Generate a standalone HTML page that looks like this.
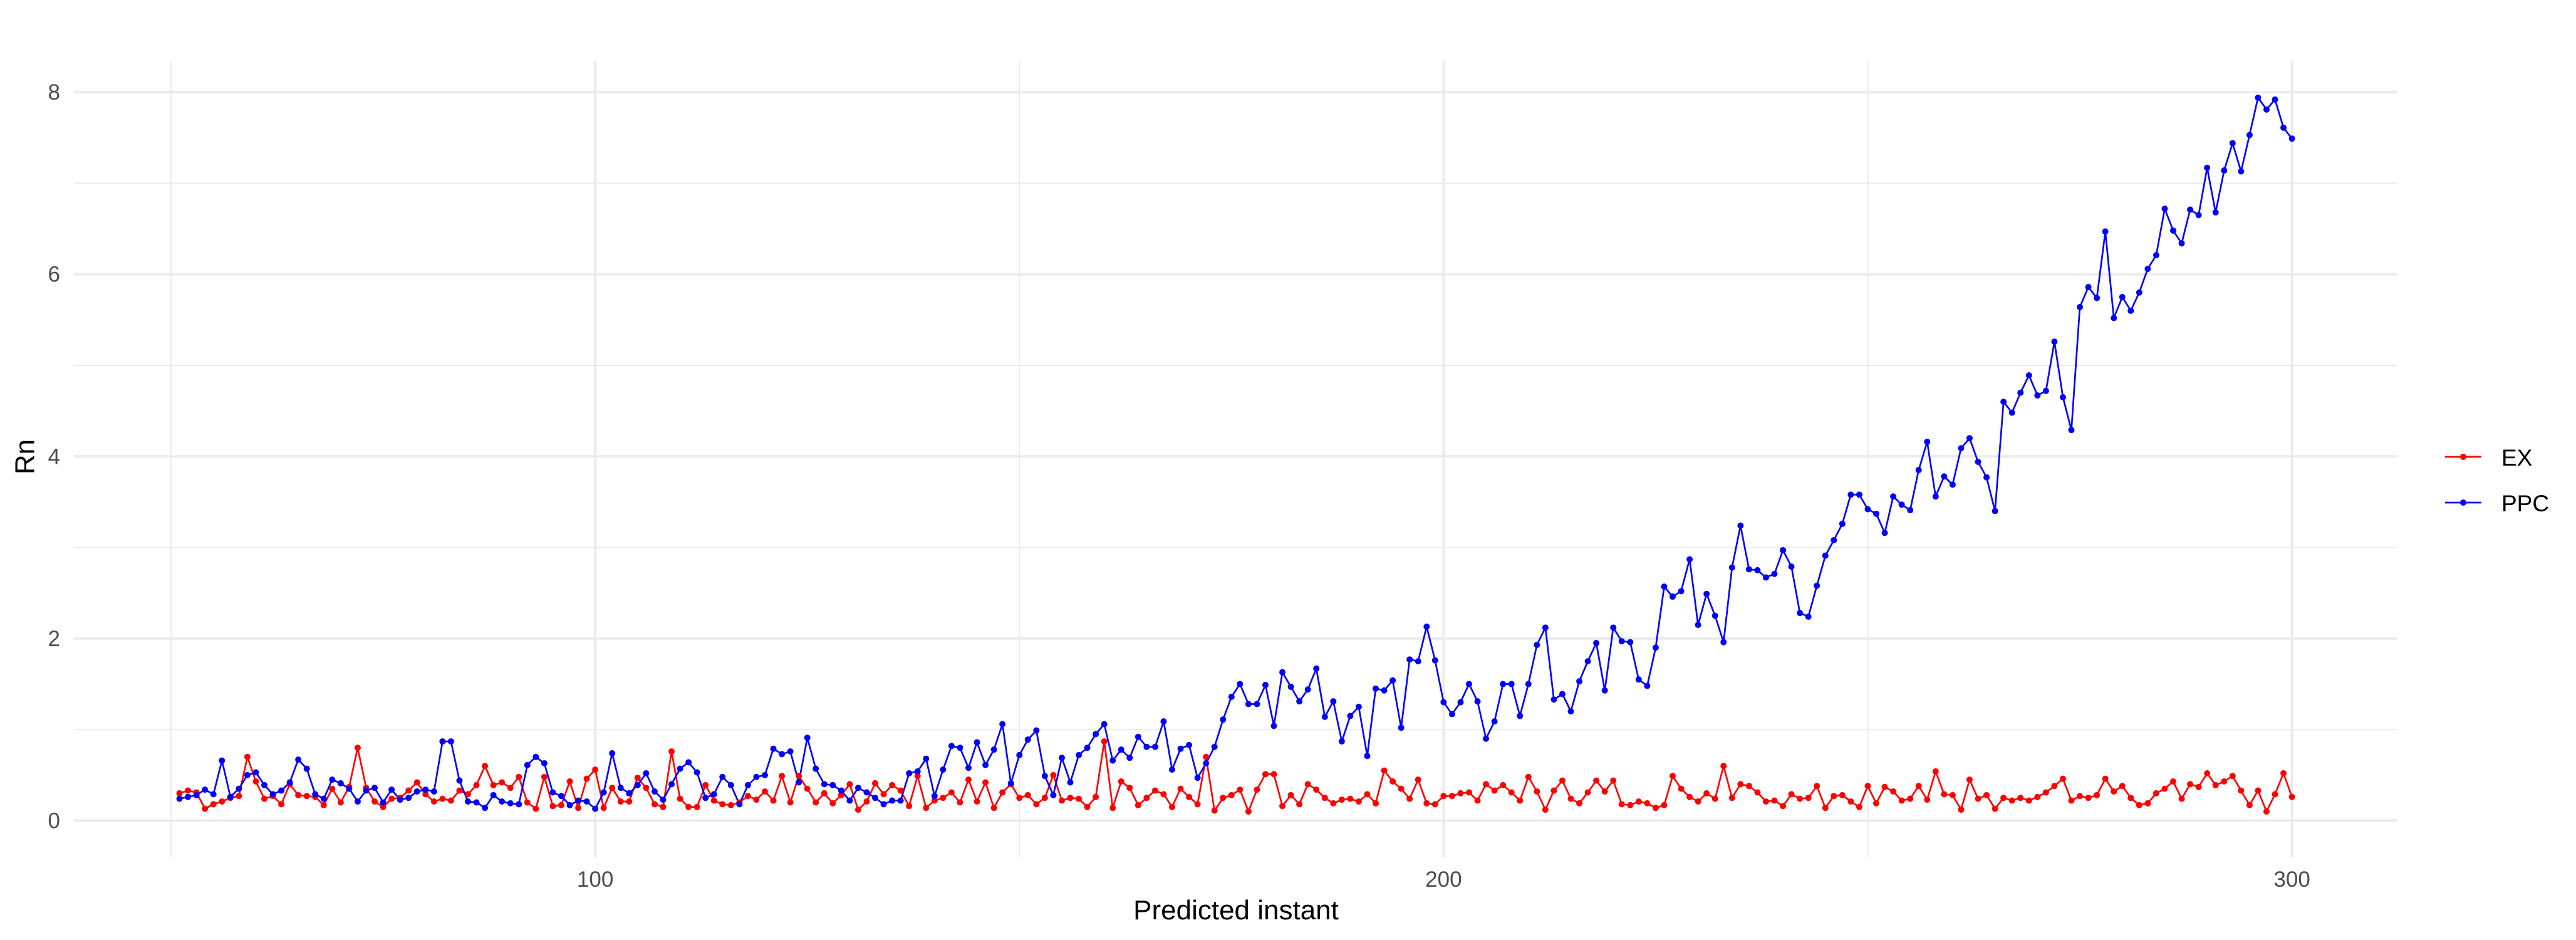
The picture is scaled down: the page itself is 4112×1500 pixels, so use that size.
<!DOCTYPE html>
<html><head><meta charset="utf-8"><style>
html,body{margin:0;padding:0;background:#fff;}
svg{display:block;font-family:"Liberation Sans",Arial,sans-serif;}
</style></head><body>
<svg id="chart" width="4112" height="1500" viewBox="0 0 4112 1500" xmlns="http://www.w3.org/2000/svg">
<rect x="0" y="0" width="4112" height="1500" fill="#fff"/>
<g id="grid"></g>
<g id="series"></g>
<g id="axes"></g>
<text x="40" y="729" font-size="44" fill="#000" text-anchor="middle" transform="rotate(-90 40 729)" dominant-baseline="central">Rn</text>
<text x="1973" y="1467" font-size="44" fill="#000" text-anchor="middle">Predicted instant</text>
<g>
<g>
<line x1="3903" y1="729" x2="3961" y2="729" stroke="#ff0000" stroke-width="2.7"/>
<circle cx="3932" cy="729" r="5" fill="#ff0000"/>
<text x="3993" y="743" font-size="37" fill="#000">EX</text>
</g>
<g>
<line x1="3903" y1="802" x2="3961" y2="802" stroke="#0000ff" stroke-width="2.7"/>
<circle cx="3932" cy="802" r="5" fill="#0000ff"/>
<text x="3993" y="816" font-size="37" fill="#000">PPC</text>
</g>
</g>
</svg>
<script>
const xStart = 51;
const exValues = [
0.30,0.33,0.31,0.13,0.18,0.21,0.25,0.27,0.70,0.43,
0.24,0.27,0.18,0.40,0.28,0.27,0.26,0.17,0.35,0.20,
0.37,0.80,0.36,0.21,0.15,0.24,0.25,0.33,0.42,0.29,
0.21,0.24,0.22,0.33,0.29,0.39,0.60,0.39,0.42,0.36,
0.48,0.20,0.13,0.48,0.16,0.17,0.43,0.14,0.46,0.56,
0.14,0.36,0.21,0.21,0.47,0.36,0.18,0.15,0.76,0.24,
0.15,0.15,0.39,0.22,0.18,0.17,0.20,0.27,0.23,0.32,
0.22,0.49,0.20,0.49,0.35,0.20,0.30,0.19,0.28,0.40,
0.12,0.21,0.41,0.29,0.39,0.33,0.16,0.49,0.14,0.22,
0.25,0.31,0.20,0.45,0.21,0.42,0.14,0.31,0.40,0.25,
0.28,0.18,0.25,0.50,0.22,0.25,0.24,0.15,0.26,0.87,
0.14,0.43,0.36,0.17,0.25,0.33,0.29,0.15,0.35,0.26,
0.18,0.70,0.11,0.25,0.28,0.34,0.10,0.34,0.51,0.51,
0.16,0.28,0.18,0.40,0.34,0.25,0.19,0.23,0.24,0.21,
0.29,0.19,0.55,0.43,0.35,0.24,0.45,0.19,0.18,0.27,
0.27,0.30,0.31,0.22,0.40,0.33,0.39,0.31,0.22,0.48,
0.32,0.12,0.33,0.44,0.24,0.19,0.31,0.44,0.32,0.44,
0.18,0.17,0.21,0.19,0.14,0.17,0.49,0.35,0.26,0.21,
0.30,0.24,0.60,0.25,0.40,0.38,0.31,0.21,0.22,0.16,
0.29,0.24,0.25,0.38,0.14,0.27,0.28,0.21,0.15,0.38,
0.19,0.37,0.32,0.22,0.24,0.38,0.23,0.54,0.29,0.28,
0.12,0.45,0.24,0.28,0.13,0.25,0.22,0.25,0.22,0.26,
0.31,0.38,0.46,0.22,0.27,0.25,0.28,0.46,0.32,0.38,
0.25,0.17,0.19,0.30,0.35,0.43,0.24,0.40,0.37,0.52,
0.39,0.43,0.49,0.33,0.17,0.33,0.10,0.29,0.52,0.26];
const ppcValues = [
0.24,0.26,0.28,0.34,0.29,0.66,0.26,0.35,0.50,0.53,
0.39,0.29,0.33,0.42,0.67,0.57,0.29,0.24,0.45,0.41,
0.35,0.21,0.33,0.36,0.20,0.34,0.23,0.25,0.32,0.34,
0.32,0.87,0.87,0.44,0.21,0.20,0.14,0.28,0.21,0.19,
0.18,0.61,0.70,0.63,0.31,0.27,0.17,0.22,0.21,0.13,
0.31,0.74,0.36,0.30,0.39,0.52,0.32,0.23,0.40,0.57,
0.64,0.53,0.25,0.29,0.48,0.39,0.18,0.39,0.48,0.50,
0.79,0.73,0.76,0.42,0.91,0.57,0.40,0.39,0.33,0.22,
0.36,0.31,0.25,0.18,0.22,0.22,0.52,0.54,0.68,0.27,
0.56,0.82,0.80,0.58,0.86,0.61,0.78,1.06,0.41,0.72,
0.89,0.99,0.49,0.28,0.69,0.42,0.72,0.80,0.95,1.06,
0.66,0.78,0.69,0.92,0.81,0.81,1.09,0.56,0.79,0.83,
0.47,0.63,0.81,1.11,1.36,1.50,1.28,1.28,1.49,1.04,
1.63,1.47,1.31,1.44,1.67,1.14,1.31,0.87,1.15,1.25,
0.71,1.45,1.43,1.54,1.02,1.77,1.75,2.13,1.76,1.30,
1.17,1.30,1.50,1.31,0.90,1.09,1.50,1.50,1.15,1.50,
1.93,2.12,1.33,1.39,1.20,1.53,1.75,1.95,1.43,2.12,
1.97,1.96,1.55,1.48,1.90,2.57,2.46,2.52,2.87,2.15,
2.49,2.25,1.96,2.78,3.24,2.76,2.75,2.67,2.71,2.97,
2.79,2.28,2.24,2.58,2.91,3.08,3.26,3.58,3.58,3.42,
3.37,3.16,3.56,3.47,3.41,3.85,4.16,3.56,3.78,3.69,
4.09,4.20,3.94,3.77,3.40,4.60,4.48,4.70,4.89,4.67,
4.72,5.26,4.65,4.29,5.64,5.86,5.74,6.47,5.52,5.75,
5.60,5.80,6.06,6.21,6.72,6.48,6.34,6.71,6.65,7.17,
6.68,7.14,7.44,7.13,7.53,7.94,7.81,7.92,7.61,7.49];
const yMajorTicks = [0, 2, 4, 6, 8];
const yMinorTicks = [1, 3, 5, 7];
const xMajorTicks = [100, 200, 300];
const xMinorTicks = [50, 150, 250];

const NS = 'http://www.w3.org/2000/svg';
const panel = {left: 118, right: 3827, top: 97, bottom: 1368};
function xScale(u) { return 273 + (u - 50) * 13.5424; }
function yScale(v) { return 1309.5 - v * 145.3; }
function mk(tag, attrs, parent) {
  const e = document.createElementNS(NS, tag);
  for (const k in attrs) e.setAttribute(k, attrs[k]);
  parent.appendChild(e);
  return e;
}
const grid = document.getElementById('grid');
const axes = document.getElementById('axes');
const series = document.getElementById('series');

yMinorTicks.forEach(t => {
  const l = mk('line', {x1: panel.left, x2: panel.right, y1: yScale(t), y2: yScale(t), stroke: '#ebebeb', 'stroke-width': 2}, grid);
  
  
});
xMinorTicks.forEach(t => {
  const l = mk('line', {x1: xScale(t), x2: xScale(t), y1: panel.top, y2: panel.bottom, stroke: '#ebebeb', 'stroke-width': 2}, grid);
  
  
});
yMajorTicks.forEach(t => {
  const l = mk('line', {x1: panel.left, x2: panel.right, y1: yScale(t), y2: yScale(t), stroke: '#ebebeb', 'stroke-width': 4}, grid);
  
  
  const tx = mk('text', {x: 96, y: yScale(t) + 12, 'font-size': 35, fill: '#4d4d4d', 'text-anchor': 'end'}, axes);
  tx.textContent = t;
  
  
});
xMajorTicks.forEach(t => {
  const l = mk('line', {x1: xScale(t), x2: xScale(t), y1: panel.top, y2: panel.bottom, stroke: '#ebebeb', 'stroke-width': 4}, grid);
  
  
  const tx = mk('text', {x: xScale(t), y: 1415, 'font-size': 35, fill: '#4d4d4d', 'text-anchor': 'middle'}, axes);
  tx.textContent = t;
  
  
});

function pathFor(vals) {
  return vals.map((v, i) => (i ? 'L' : 'M') + xScale(xStart + i).toFixed(1) + ' ' + yScale(v).toFixed(1)).join(' ');
}
const exLine = mk('path', {d: pathFor(exValues), fill: 'none', stroke: '#ff0000', 'stroke-width': 2.7, 'stroke-linejoin': 'round'}, series);


const ppcLine = mk('path', {d: pathFor(ppcValues), fill: 'none', stroke: '#0000ff', 'stroke-width': 2.7, 'stroke-linejoin': 'round'}, series);



exValues.forEach((v, i) => {
  const c = mk('circle', {cx: xScale(xStart + i), cy: yScale(v), r: 5, fill: '#ff0000'}, series);
  
  
});
ppcValues.forEach((v, i) => {
  const c = mk('circle', {cx: xScale(xStart + i), cy: yScale(v), r: 5, fill: '#0000ff'}, series);
  
  
});
</script>
</body></html>
